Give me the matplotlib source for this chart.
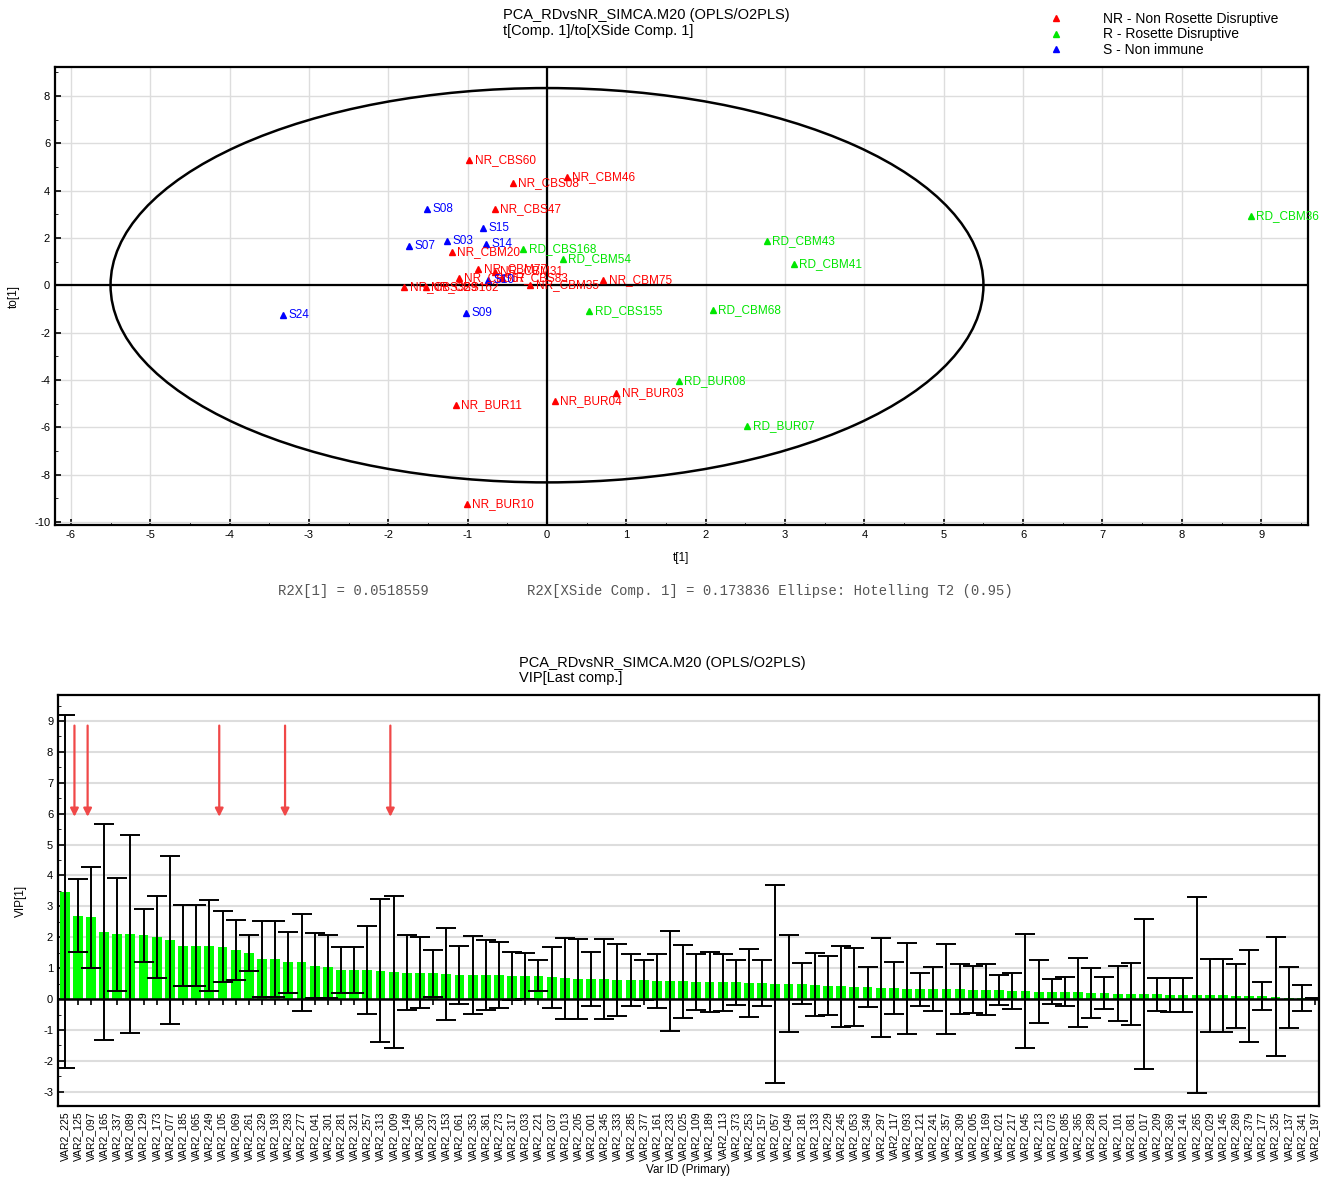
import numpy as np
import matplotlib
matplotlib.use('Agg')
import matplotlib.pyplot as plt
from matplotlib.patches import Ellipse
from matplotlib.lines import Line2D
from matplotlib.ticker import MultipleLocator

plt.rcParams['font.family'] = ['Liberation Sans', 'DejaVu Sans']
plt.rcParams['axes.unicode_minus'] = False

MODEL = 'PCA_RDvsNR_SIMCA.M20 (OPLS/O2PLS)'

# score plot t[1] / to[1]
NR_NAMES = ['NR_CBS60', 'NR_CBM46', 'NR_CBS08', 'NR_CBS47', 'NR_CBM20', 'NR_CBM77',
            'NR_CBM31', 'NR_CBS57', 'NR_CBS83', 'NR_CBS329', 'NR_CBS162', 'NR_CBM75',
            'NR_CBM35', 'NR_BUR03', 'NR_BUR04', 'NR_BUR11', 'NR_BUR10']
NR_T = [-0.98, 0.25, -0.43, -0.66, -1.20, -0.87, -0.66, -1.11, -0.57, -1.80, -1.53, 0.71,
        -0.21, 0.87, 0.10, -1.15, -1.01]
NR_TO = [5.29, 4.58, 4.32, 3.22, 1.41, 0.69, 0.58, 0.32, 0.30, -0.08, -0.08, 0.22,
         0.01, -4.55, -4.89, -5.06, -9.24]

RD_NAMES = ['RD_CBS168', 'RD_CBM54', 'RD_CBM43', 'RD_CBM41', 'RD_CBM36', 'RD_CBS155',
            'RD_CBM68', 'RD_BUR08', 'RD_BUR07']
RD_T = [-0.30, 0.20, 2.77, 3.11, 8.87, 0.53, 2.09, 1.66, 2.52]
RD_TO = [1.53, 1.11, 1.87, 0.90, 2.93, -1.08, -1.04, -4.04, -5.94]

S_NAMES = ['S08', 'S15', 'S07', 'S03', 'S14', 'S10', 'S24', 'S09']
S_T = [-1.51, -0.81, -1.74, -1.26, -0.77, -0.74, -3.33, -1.02]
S_TO = [3.22, 2.42, 1.66, 1.87, 1.74, 0.22, -1.25, -1.17]

ELLIPSE_A = 5.5   # Hotelling T2 (0.95)
ELLIPSE_B = 8.33
R2X_1 = 0.0518559
R2X_XSIDE = 0.173836

# VIP plot
VAR_IDS = ['225', '125', '097', '165', '337', '089', '129', '173', '077', '185', '065', '249',
           '105', '069', '261', '329', '193', '293', '277', '041', '301', '281', '321', '257',
           '313', '009', '149', '305', '237', '153', '061', '353', '361', '273', '317', '033',
           '221', '037', '013', '205', '001', '345', '333', '285', '377', '161', '233', '025',
           '109', '189', '113', '373', '253', '157', '057', '049', '181', '133', '229', '245',
           '053', '349', '297', '117', '093', '121', '241', '357', '309', '005', '169', '021',
           '217', '045', '213', '073', '085', '365', '289', '201', '101', '081', '017', '209',
           '369', '141', '265', '029', '145', '269', '379', '177', '325', '137', '341', '197']
VIP = [3.47, 2.70, 2.65, 2.17, 2.10, 2.10, 2.06, 2.00, 1.92, 1.73, 1.73, 1.73,
       1.70, 1.59, 1.49, 1.30, 1.30, 1.19, 1.19, 1.08, 1.05, 0.94, 0.94, 0.94,
       0.92, 0.88, 0.86, 0.86, 0.83, 0.81, 0.78, 0.78, 0.78, 0.78, 0.75, 0.75,
       0.75, 0.70, 0.67, 0.65, 0.65, 0.65, 0.62, 0.62, 0.62, 0.59, 0.59, 0.58,
       0.56, 0.56, 0.54, 0.54, 0.52, 0.52, 0.50, 0.50, 0.50, 0.47, 0.43, 0.41,
       0.39, 0.39, 0.37, 0.37, 0.34, 0.32, 0.32, 0.32, 0.32, 0.30, 0.30, 0.29,
       0.27, 0.26, 0.24, 0.24, 0.23, 0.22, 0.20, 0.19, 0.18, 0.17, 0.17, 0.15,
       0.14, 0.14, 0.13, 0.12, 0.12, 0.11, 0.10, 0.09, 0.08, 0.05, 0.04, 0.02]
VIP_CI = [5.71, 1.18, 1.63, 3.48, 1.83, 3.20, 0.86, 1.32, 2.72, 1.31, 1.31, 1.47,
          1.16, 0.96, 0.57, 1.24, 1.24, 0.98, 1.56, 1.05, 1.02, 0.74, 0.74, 1.43,
          2.32, 2.47, 1.21, 1.14, 0.77, 1.50, 0.93, 1.25, 1.13, 1.07, 0.78, 0.74,
          0.50, 0.99, 1.31, 1.31, 0.86, 1.29, 1.17, 0.84, 0.65, 0.87, 1.61, 1.18,
          0.90, 0.97, 0.92, 0.72, 1.11, 0.74, 3.20, 1.57, 0.67, 1.02, 0.95, 1.31,
          1.25, 0.64, 1.61, 0.84, 1.48, 0.53, 0.72, 1.46, 0.81, 0.76, 0.83, 0.48,
          0.59, 1.83, 1.02, 0.41, 0.47, 1.11, 0.81, 0.51, 0.90, 1.01, 2.42, 0.52,
          0.55, 0.55, 3.17, 1.19, 1.17, 1.04, 1.48, 0.45, 1.92, 1.00, 0.42, 0.03]
ARROW_IDS = ['125', '097', '105', '293', '009']

RED = '#ff0000'
GREEN = '#00e600'
BLUE = '#0000ff'
GRID = '#dddddd'


def plot_scores(ax):
    ax.set_xlim(-6.2, 9.59)
    ax.set_ylim(-10.13, 9.22)
    ax.xaxis.set_major_locator(MultipleLocator(1))
    ax.xaxis.set_minor_locator(MultipleLocator(0.5))
    ax.yaxis.set_major_locator(MultipleLocator(2))
    ax.yaxis.set_minor_locator(MultipleLocator(1))
    ax.grid(True, which='major', color=GRID, lw=1.0, zorder=0)
    ax.set_axisbelow(True)
    ax.axhline(0, color='black', lw=1.6, zorder=1)
    ax.axvline(0, color='black', lw=1.6, zorder=1)
    ax.add_patch(Ellipse((0, 0), 2 * ELLIPSE_A, 2 * ELLIPSE_B, fill=False,
                         ec='black', lw=1.8, zorder=2))

    for names, xs, ys, col in [(NR_NAMES, NR_T, NR_TO, RED),
                               (RD_NAMES, RD_T, RD_TO, GREEN),
                               (S_NAMES, S_T, S_TO, BLUE)]:
        ax.plot(xs, ys, '^', color=col, ms=4.5, ls='none', zorder=3)
        for n, x, y in zip(names, xs, ys):
            ax.annotate(n, (x, y), xytext=(4, 0), textcoords='offset points',
                        va='center', ha='left', color=col, fontsize=8.5,
                        zorder=4, annotation_clip=False)

    ax.set_xlabel('t[1]', fontsize=8.5, labelpad=9)
    ax.set_ylabel('to[1]', fontsize=8.5, labelpad=10)
    ax.tick_params(labelsize=8, direction='in', length=4, width=1.2)
    ax.tick_params(which='minor', direction='in', length=2)
    for s in ax.spines.values():
        s.set_linewidth(1.6)


def plot_vip(ax):
    x = np.arange(len(VIP))
    vip = np.array(VIP)
    ci = np.array(VIP_CI)
    ax.set_xlim(-0.5, 95.3)
    ax.set_ylim(-3.46, 9.84)
    ax.yaxis.set_major_locator(MultipleLocator(1))
    ax.yaxis.set_minor_locator(MultipleLocator(0.5))
    ax.grid(True, axis='y', color=GRID, lw=1.5, zorder=0)
    ax.set_axisbelow(True)

    ax.bar(x, vip, width=0.75, color='#00ff00', zorder=2)
    ax.errorbar(x, vip, yerr=ci, fmt='none', ecolor='black', elinewidth=1.4,
                capsize=7, capthick=1.4, zorder=3)
    ax.axhline(0, color='black', lw=1.8, zorder=4)
    ax.plot(x[1:], np.zeros(len(x) - 1), ls='none', marker=3, ms=4,
            mew=1.2, color='black', zorder=4)

    for vid in ARROW_IDS:
        i = VAR_IDS.index(vid) - 0.25
        ax.annotate('', xy=(i, 5.9), xytext=(i, 8.85),
                    arrowprops=dict(arrowstyle='-|>', color='#f04848', lw=1.6,
                                    mutation_scale=12, shrinkA=0, shrinkB=0))

    ax.set_xticks(x)
    ax.set_xticklabels(['VAR2_' + v for v in VAR_IDS], rotation=90, fontsize=7.5)
    ax.tick_params(axis='x', length=0, pad=4)
    ax.tick_params(axis='y', labelsize=8, direction='in', length=4, width=1.2)
    ax.tick_params(axis='y', which='minor', direction='in', length=2)
    ax.set_xlabel('Var ID (Primary)', fontsize=8.5, labelpad=2)
    ax.set_ylabel('VIP[1]', fontsize=8.5, labelpad=12)
    for s in ax.spines.values():
        s.set_linewidth(1.6)


def main():
    fig = plt.figure(figsize=(13.25, 11.8), dpi=100)

    ax1 = fig.add_axes([55 / 1325, 1 - 525 / 1180, (1308 - 55) / 1325, (525 - 67) / 1180])
    plot_scores(ax1)
    fig.text(503 / 1325, 1 - 15 / 1180, MODEL, fontsize=10.5, va='center')
    fig.text(503 / 1325, 1 - 31 / 1180, 't[Comp. 1]/to[XSide Comp. 1]', fontsize=10.5, va='center')

    handles = [Line2D([], [], marker='^', ls='none', color=c, ms=4) for c in (RED, GREEN, BLUE)]
    fig.legend(handles, ['NR - Non Rosette Disruptive', 'R - Rosette Disruptive', 'S - Non immune'],
               loc='upper left', bbox_to_anchor=(1046 / 1325, 1 - 9 / 1180), frameon=False,
               fontsize=10, handlelength=1, handletextpad=2.9, labelspacing=0.12,
               borderaxespad=0, borderpad=0.2)

    mono = ['Liberation Mono', 'DejaVu Sans Mono']
    fig.text(278 / 1325, 1 - 591 / 1180, 'R2X[1] = %.7f' % R2X_1, family=mono,
             fontsize=10, color='#555555', va='center')
    fig.text(527 / 1325, 1 - 591 / 1180,
             'R2X[XSide Comp. 1] = %.6f Ellipse: Hotelling T2 (0.95)' % R2X_XSIDE,
             family=mono, fontsize=10, color='#555555', va='center')

    ax2 = fig.add_axes([58 / 1325, 1 - 1106 / 1180, (1319 - 58) / 1325, (1106 - 695) / 1180])
    plot_vip(ax2)
    fig.text(519 / 1325, 1 - 663 / 1180, MODEL, fontsize=10.5, va='center')
    fig.text(519 / 1325, 1 - 678 / 1180, 'VIP[Last comp.]', fontsize=10.5, va='center')

    fig.savefig('out.png', dpi=100, facecolor='white')


if __name__ == '__main__':
    main()
